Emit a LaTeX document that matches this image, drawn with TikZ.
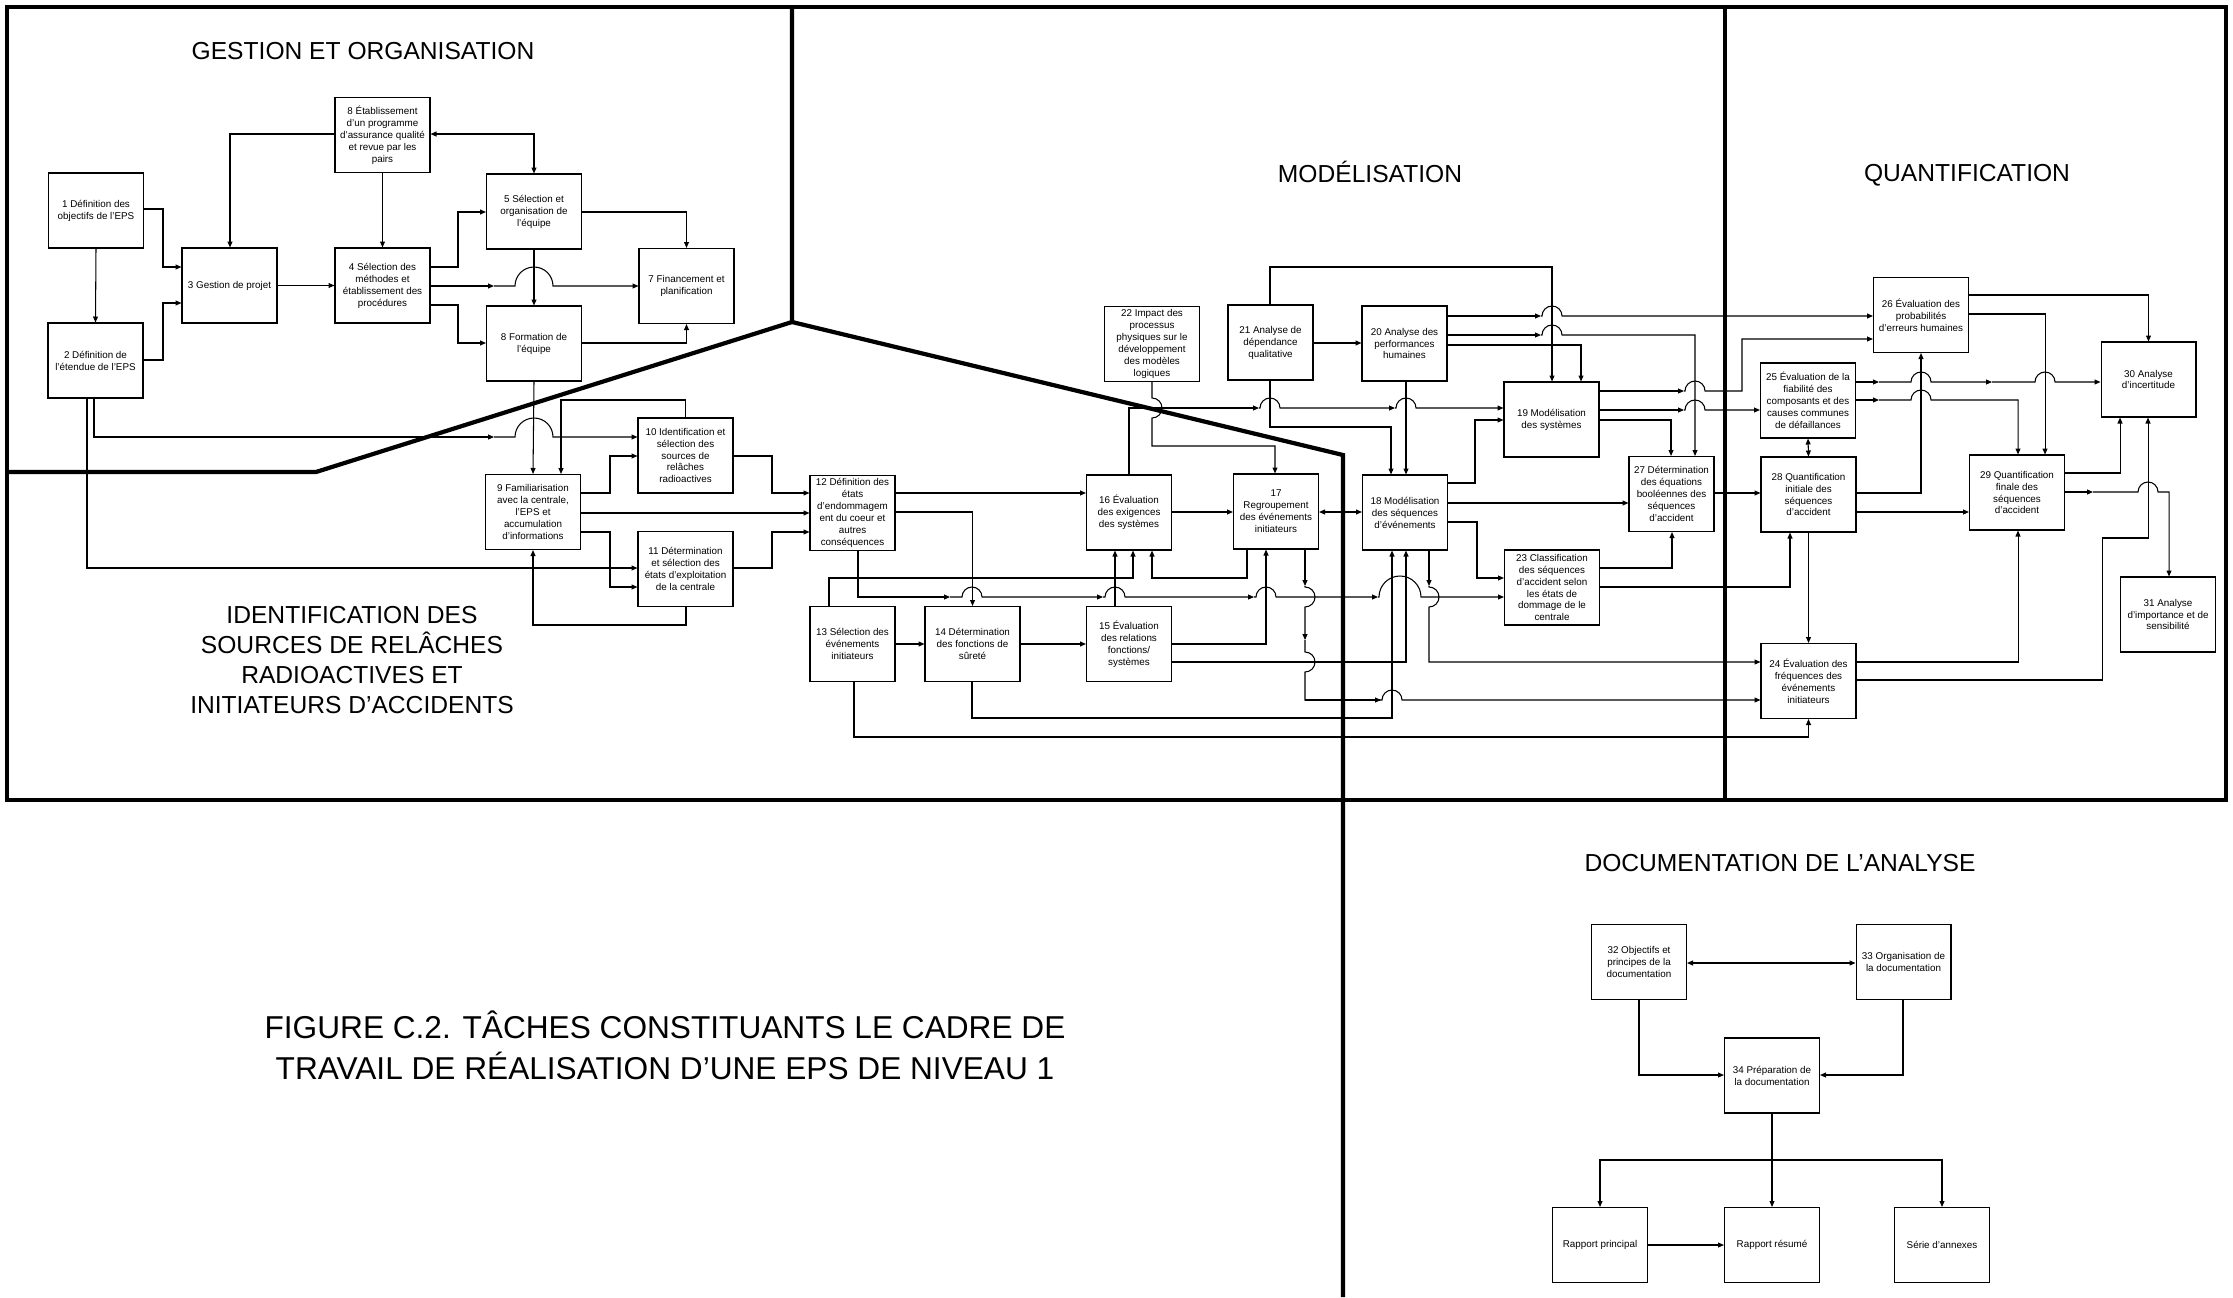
\documentclass[tikz,border=0pt]{standalone}
\usepackage{fontspec}
\setmainfont{Liberation Sans}
\usetikzlibrary{arrows.meta}
\newcommand\boxfnt{\fontsize{14}{17}\selectfont}
\newcommand\ttlfnt{\fontsize{35}{42.7}\selectfont}
\newcommand\capfnt{\fontsize{45}{58.3}\selectfont}
\tikzset{
  Tri/.tip={Triangle[length=8.5pt,width=7pt]},
  box/.style={draw,line width=1.5pt,minimum width=4.75cm,minimum height=3.75cm,inner sep=1pt,align=center,font=\boxfnt},
  nbox/.style={box,minimum width=4.25cm},
  conn/.style={line width=1.5pt},
  arr/.style={conn,-Tri},
  darr/.style={conn,Tri-Tri},
  frameline/.style={line width=6pt},
  ttl/.style={font=\ttlfnt,align=center,inner sep=0pt},
  capt/.style={font=\capfnt,align=center,inner sep=0pt},
}
\begin{document}
\begin{tikzpicture}[x=0.05cm,y=-0.05cm]
\useasboundingbox (0,0) rectangle (2233,1297);

% ---------- frame ----------
\draw[frameline] (7,7) rectangle (2226,800);
\draw[frameline] (792,7) -- (792,322) -- (316,472) -- (7,472);
\draw[frameline] (792,322) -- (1343,455) -- (1343,1297);
\draw[frameline] (1725,7) -- (1725,800);

% ---------- titles ----------
\node[ttl] (tg) at (363,51) {GESTION ET ORGANISATION};
\node[ttl] (tm) at (1370,172) {MODÉLISATION};
\node[ttl] (tq) at (1967,175) {QUANTIFICATION};
\node[ttl] (ti) at (352,660) {IDENTIFICATION DES\\SOURCES DE RELÂCHES\\RADIOACTIVES ET\\INITIATEURS D'ACCIDENTS};
\node[ttl] (td) at (1780,863) {DOCUMENTATION DE L'ANALYSE};
\node[capt] (tf) at (665,1045) {FIGURE C.2. TÂCHES CONSTITUANTS LE CADRE DE\\TRAVAIL DE RÉALISATION D'UNE EPS DE NIVEAU 1};

% ---------- boxes: gestion ----------
\node[box] (b1) at (96,210.5) {1 Définition des\\objectifs de l'EPS};
\node[box] (b2) at (95.5,360.5) {2 Définition de\\l'étendue de l'EPS};
\node[box] (b3) at (229.5,285.5) {3 Gestion de projet};
\node[box] (b8a) at (382.5,135) {8 Établissement\\d'un programme\\d'assurance qualité\\et revue par les\\pairs};
\node[box] (b4) at (382.5,285.5) {4 Sélection des\\méthodes et\\établissement des\\procédures};
\node[box] (b5) at (534,211.5) {5 Sélection et\\organisation de\\l'équipe};
\node[box] (b7) at (686.5,286) {7 Financement et\\planification};
\node[box] (b8b) at (534,343.5) {8 Formation de\\l'équipe};

% ---------- boxes: identification ----------
\node[box] (b9) at (533,512) {9 Familiarisation\\avec la centrale,\\l'EPS et\\accumulation\\d'informations};
\node[box] (b10) at (685.5,455.5) {10 Identification et\\sélection des\\sources de\\relâches\\radioactives};
\node[box] (b11) at (685.5,569) {11 Détermination\\et sélection des\\états d'exploitation\\de la centrale};
\node[nbox] (b12) at (852.5,513) {12 Définition des\\états\\d'endommagem\\ent du coeur et\\autres\\conséquences};
\node[nbox] (b13) at (852.5,644) {13 Sélection des\\événements\\initiateurs};
\node[box] (b14) at (972.5,644) {14 Détermination\\des fonctions de\\sûreté};
\node[nbox] (b15) at (1129,644) {15 Évaluation\\des relations\\fonctions/\\systèmes};
\node[nbox] (b16) at (1129,512.5) {16 Évaluation\\des exigences\\des systèmes};
\node[nbox] (b17) at (1276,511.5) {17\\Regroupement\\des événements\\initiateurs};

% ---------- boxes: modelisation ----------
\node[nbox] (b18) at (1405,512.5) {18 Modélisation\\des séquences\\d'événements};
\node[box] (b22) at (1152,344) {22 Impact des\\processus\\physiques sur le\\développement\\des modèles\\logiques};
\node[nbox] (b21) at (1270.5,342.5) {21 Analyse de\\dépendance\\qualitative};
\node[nbox] (b20) at (1404.5,343.5) {20 Analyse des\\performances\\humaines};
\node[box] (b19) at (1551.5,419.5) {19 Modélisation\\des systèmes};
\node[nbox] (b27) at (1671.5,494) {27 Détermination\\des équations\\booléennes des\\séquences\\d'accident};
\node[box] (b23) at (1552,587.5) {23 Classification\\des séquences\\d'accident selon\\les états de\\dommage de le\\centrale};

% ---------- boxes: quantification ----------
\node[box] (b26) at (1921,315) {26 Évaluation des\\probabilités\\d'erreurs humaines};
\node[box] (b25) at (1808,400.5) {25 Évaluation de la\\fiabilité des\\composants et des\\causes communes\\de défaillances};
\node[box] (b28) at (1808.5,494.5) {28 Quantification\\initiale des\\séquences\\d'accident};
\node[box] (b29) at (2017,492.5) {29 Quantification\\finale des\\séquences\\d'accident};
\node[box] (b30) at (2148.5,379.5) {30 Analyse\\d'incertitude};
\node[box] (b31) at (2168,614.5) {31 Analyse\\d'importance et de\\sensibilité};
\node[box] (b24) at (1808.5,681) {24 Évaluation des\\fréquences des\\événements\\initiateurs};

% ---------- boxes: documentation ----------
\node[box] (b32) at (1639,962) {32 Objectifs et\\principes de la\\documentation};
\node[box] (b33) at (1903.5,962) {33 Organisation de\\la documentation};
\node[box] (b34) at (1772,1075.5) {34 Préparation de\\la documentation};
\node[box] (r1) at (1600,1245) {Rapport principal};
\node[box] (r2) at (1772,1245) {Rapport résumé};
\node[box] (r3) at (1942,1245) {Série d'annexes};

% ---------- connectors: gestion ----------
\draw[arr] (b8a.west |- 0,134) -| (b3.north -| 230,0);
\draw[arr] (b8a.south) -- (b4.north);
\draw[darr] (b8a.east |- 0,134) -| (b5.north);
\draw[arr] (b1.east |- 0,209) -- (163,209) |- (b3.west |- 0,267);
\draw[arr] (b1.south) -- (b2.north);
\draw[arr] (b2.east |- 0,360) -- (163,360) |- (b3.west |- 0,303);
\draw[arr] (b3.east) -- (b4.west);
\draw[arr] (b4.east |- 0,267) -- (458,267) |- (b5.west |- 0,212);
\draw[arr] (b4.east |- 0,286) -- (494,286);
\draw[arr] (494,286) -- (515,286) arc[start angle=180,end angle=0,radius=0.95cm] -- (b7.west |- 0,286);
\draw[arr] (b4.east |- 0,305) -- (458,305) |- (b8b.west |- 0,343);
\draw[arr] (b5.east |- 0,212) -| (b7.north);
\draw[arr] (b5.south) -- (b8b.north);
\draw[arr] (b8b.east |- 0,343) -| (b7.south);
\draw[arr] (b8b.south) -- (b9.north);

% ---------- connectors: identification ----------
\draw[arr] (b10.north) -- (685.5,400) -| (b9.north -| 561,0);
\draw[arr] (b2.south -| 94,0) |- (494,437);
\draw[arr] (494,437) -- (515,437) arc[start angle=180,end angle=0,radius=0.95cm] -- (b10.west |- 0,437);
\draw[arr] (b2.south -| 87,0) |- (b11.west |- 0,568);
\draw[arr] (b9.east |- 0,493) -- (610,493) |- (b10.west |- 0,456);
\draw[arr] (b9.east |- 0,513) -- (b12.west |- 0,513);
\draw[arr] (b9.east |- 0,532) -- (610,532) |- (b11.west |- 0,587);
\draw[arr] (b11.south -| 686,0) -- (686,625) -| (b9.south);
\draw[arr] (b10.east |- 0,456) -- (772,456) |- (b12.west |- 0,493);
\draw[arr] (b11.east |- 0,568) -- (772,568) |- (b12.west |- 0,532);
\draw[arr] (b12.east |- 0,493) -- (b16.west |- 0,493);
\draw[arr] (b12.east |- 0,512) -| (b14.north);
\draw[arr] (b13.north -| 829,0) -- (829,578) -| (b16.south -| 1133,0);
\draw[arr] (b17.south -| 1247,0) -- (1247,578) -| (b16.south -| 1152,0);
\draw[arr] (b15.north -| 1115,0) -- (b16.south -| 1115,0);
\draw[arr] (b15.east |- 0,644) -| (b17.south -| 1266,0);
\draw[arr] (b13.east) -- (b14.west);
\draw[arr] (b14.east) -- (b15.west);
\draw[arr] (b16.east |- 0,512) -- (b17.west |- 0,512);
\draw[darr] (b17.east |- 0,512) -- (b18.west |- 0,512);

% B12 -> B23 with hops
\draw[arr] (b12.south -| 858,0) |- (950,597);
\draw[arr] (950,597) -- (962,597) arc[start angle=180,end angle=0,radius=0.5cm] -- (1103,597);
\draw[arr] (1103,597) -- (1105,597) arc[start angle=180,end angle=0,radius=0.5cm] -- (1254,597);
\draw[arr] (1254,597) -- (1256,597) arc[start angle=180,end angle=0,radius=0.5cm] -- (1378,597);
\draw[arr] (1378,597) -- (1379,597) arc[start angle=180,end angle=0,radius=1.05cm] -- (b23.west |- 0,597);

% B17 -> B24 with hops
\draw[arr] (b17.south -| 1305,0) -- (1305,586);
\draw[arr] (1305,586) -- (1305,587) arc[start angle=90,end angle=-90,radius=0.5cm] -- (1305,640);
\draw[conn] (1305,640) -- (1305,652) arc[start angle=90,end angle=-90,radius=0.5cm] -- (1305,700) -- (1381,700);
\draw[arr] (1305,700) -- (1381,700);
\draw[arr] (1381,700) -- (1382,700) arc[start angle=180,end angle=0,radius=0.5cm] -- (b24.west |- 0,700);

% B15 -> B18, B18 -> B24
\draw[arr] (b15.east |- 0,662) -- (1406,662) -- (b18.south -| 1406,0);
\draw[arr] (b18.south -| 1429,0) -- (1429,586);
\draw[arr] (1429,586) -- (1429,587) arc[start angle=90,end angle=-90,radius=0.5cm] -- (1429,662) -- (b24.west |- 0,662);
\draw[arr] (b14.south -| 972,0) -- (972,718) -| (b18.south -| 1392,0);
\draw[arr] (b13.south -| 854,0) -- (854,737) -| (b24.south);

% ---------- connectors: modelisation ----------
\draw[arr] (b22.south -| 1152,0) -- (1152,398) arc[start angle=90,end angle=-90,radius=0.5cm] -- (1152,446) -| (b17.north -| 1275,0);
\draw[arr] (b16.north -| 1129,0) |- (1259,408);
\draw[arr] (1259,408) -- (1260,408) arc[start angle=180,end angle=0,radius=0.5cm] -- (1395,408);
\draw[arr] (1395,408) -- (1396,408) arc[start angle=180,end angle=0,radius=0.5cm] -- (b19.west |- 0,408);
\draw[arr] (b21.south -| 1270,0) -- (1270,427) -| (b18.north -| 1391,0);
\draw[arr] (b20.south -| 1406,0) -- (b18.north -| 1406,0);
\draw[arr] (b21.east |- 0,343) -- (b20.west |- 0,343);
\draw[arr] (b21.north -| 1270,0) -- (1270,267) -| (b19.north -| 1552,0);
\draw[arr] (b20.east |- 0,316) -- (1541,316);
\draw[arr] (1541,316) -- (1542,316) arc[start angle=180,end angle=0,radius=0.5cm] -- (b26.west |- 0,316);
\draw[arr] (b20.east |- 0,335) -- (1541,335);
\draw[arr] (1541,335) -- (1542,335) arc[start angle=180,end angle=0,radius=0.5cm] -- (1695,335) -- (b27.north -| 1695,0);
\draw[arr] (b20.east |- 0,345) -| (b19.north -| 1581,0);
\draw[arr] (b19.east |- 0,391) -- (1684,391);
\draw[arr] (1684,391) -- (1685,391) arc[start angle=180,end angle=0,radius=0.5cm] -- (1742,391) -- (1742,339) -- (b26.west |- 0,339);
\draw[arr] (b19.east |- 0,410) -- (1684,410);
\draw[arr] (1684,410) -- (1685,410) arc[start angle=180,end angle=0,radius=0.5cm] -- (b25.west |- 0,410);
\draw[arr] (b19.east |- 0,420) -| (b27.north -| 1671,0);
\draw[arr] (b18.east |- 0,483) -- (1475,483) |- (b19.west |- 0,420);
\draw[arr] (b18.east |- 0,503) -- (b27.west |- 0,503);
\draw[arr] (b18.east |- 0,522) -- (1477,522) |- (b23.west |- 0,578);
\draw[arr] (b23.east |- 0,568) -| (b27.south -| 1672,0);
\draw[arr] (b23.east |- 0,587) -| (b28.south -| 1790,0);
\draw[arr] (b27.east |- 0,493) -- (b28.west |- 0,493);

% ---------- connectors: quantification ----------
\draw[arr] (b28.east |- 0,493) -| (b26.south);
\draw[arr] (b25.east |- 0,382) -- (1879,382);
\draw[arr] (1879,382) -- (1911,382) arc[start angle=180,end angle=0,radius=0.5cm] -- (1992,382);
\draw[arr] (1992,382) -- (2035,382) arc[start angle=180,end angle=0,radius=0.5cm] -- (b30.west |- 0,382);
\draw[arr] (b25.east |- 0,400) -- (1879,400);
\draw[arr] (1879,400) -- (1911,400) arc[start angle=180,end angle=0,radius=0.5cm] -- (2018,400) -- (b29.north -| 2018,0);
\draw[darr] (b25.south) -- (b28.north);
\draw[arr] (b28.east |- 0,512) -- (b29.west |- 0,512);
\draw[arr] (b28.south) -- (b24.north);
\draw[arr] (b26.east |- 0,295) -| (b30.north);
\draw[arr] (b26.east |- 0,314) -| (b29.north -| 2045,0);
\draw[arr] (b29.east |- 0,473) -| (b30.south -| 2120,0);
\draw[arr] (b29.east |- 0,492) -- (2093,492);
\draw[arr] (2093,492) -- (2138,492) arc[start angle=180,end angle=0,radius=0.5cm] -- (2169,492) -- (b31.north -| 2169,0);
\draw[arr] (b24.east |- 0,662) -| (b29.south -| 2018,0);
\draw[arr] (b24.east |- 0,680) -- (2102,680) |- (2148,538) -- (b30.south -| 2148,0);

% ---------- connectors: documentation ----------
\coordinate (split) at (1772,1160);
\draw[darr] (b32.east |- 0,963) -- (b33.west |- 0,963);
\draw[arr] (b32.south -| 1639,0) |- (b34.west |- 0,1075);
\draw[arr] (b33.south -| 1903,0) |- (b34.east |- 0,1075);
\draw[conn] (b34.south) -- (split);
\draw[arr] (split) -- (r2.north);
\draw[arr] (split) -| (r1.north);
\draw[arr] (split) -| (r3.north);
\draw[arr] (r1.east) -- (r2.west);
\end{tikzpicture}
\end{document}
